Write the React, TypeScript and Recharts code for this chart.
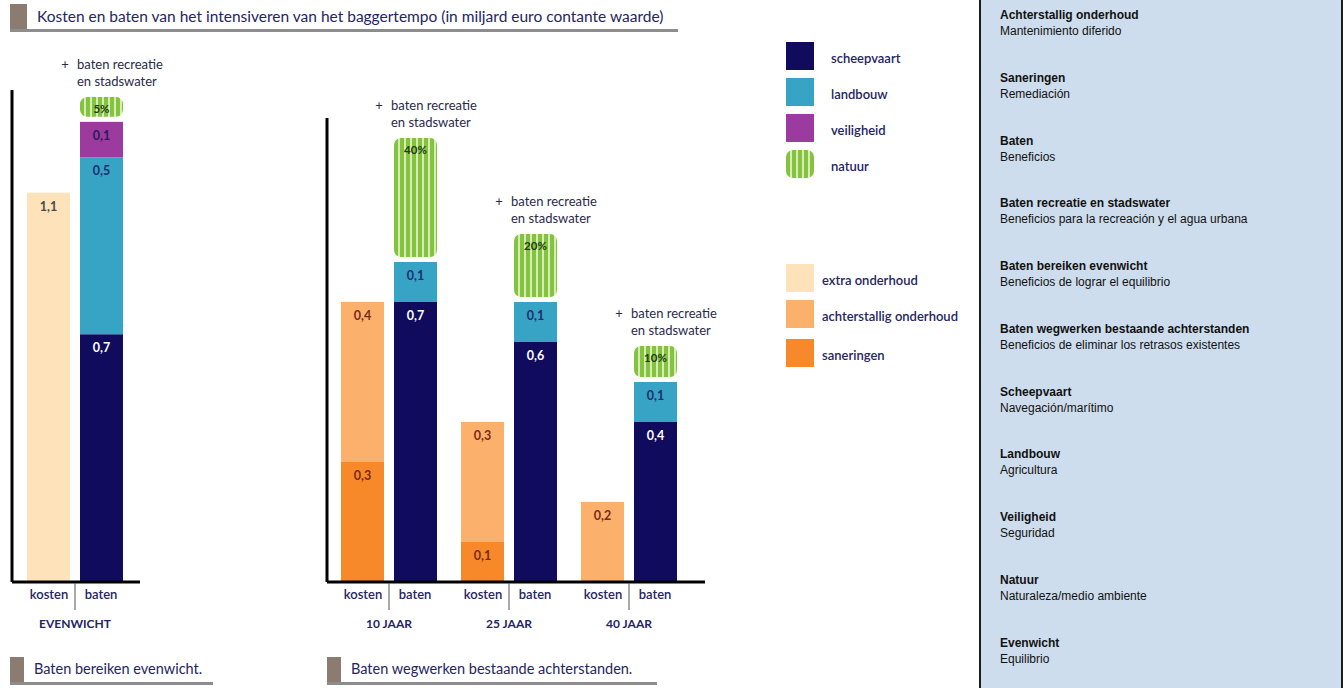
import React from 'react';
import { BarChart, Bar, XAxis, YAxis } from 'recharts';

// groups: first one is the left panel, the other three the middle panel
const groups = ['EVENWICHT', '10 JAAR', '25 JAAR', '40 JAAR'];

// kosten (miljard euro)
const extraOnderhoud = [1.1, 0, 0, 0];
const achterstalligOnderhoud = [0, 0.4, 0.3, 0.2];
const saneringen = [0, 0.3, 0.1, 0];

// baten (miljard euro)
const scheepvaart = [0.7, 0.7, 0.6, 0.4];
const landbouw = [0.5, 0.1, 0.1, 0.1];
const veiligheid = [0.1, 0, 0, 0];
// natuur is only given as a percentage; heights
const natuur = [0.07, 0.31, 0.17, 0.09];
const natuurPct = ['5%', '40%', '20%', '10%'];

const legendBaten = ['scheepvaart', 'landbouw', 'veiligheid', 'natuur'];
const legendKosten = ['extra onderhoud', 'achterstallig onderhoud', 'saneringen'];

const glossaryNl = [
  'Achterstallig onderhoud', 'Saneringen', 'Baten', 'Baten recreatie en stadswater',
  'Baten bereiken evenwicht', 'Baten wegwerken bestaande achterstanden', 'Scheepvaart',
  'Landbouw', 'Veiligheid', 'Natuur', 'Evenwicht',
];
const glossaryEs = [
  'Mantenimiento diferido', 'Remediación', 'Beneficios', 'Beneficios para la recreación y el agua urbana',
  'Beneficios de lograr el equilibrio', 'Beneficios de eliminar los retrasos existentes', 'Navegación/marítimo',
  'Agricultura', 'Seguridad', 'Naturaleza/medio ambiente', 'Equilibrio',
];

const C = {
  navy: '#100b5c',
  teal: '#37a4c6',
  purple: '#9b3a9f',
  green: '#84c23f',
  greenLight: '#d4edb4',
  peach: '#fde2ba',
  lightOrange: '#fbb16c',
  orange: '#f7892b',
  text: '#25255f',
  brown: '#8c7b70',
  rule: '#8d8d8d',
};

const FONT = 'Lato, "Open Sans", sans-serif';

const rows = groups.map((g, i) => ({
  group: g,
  saneringen: saneringen[i],
  achterstallig: achterstalligOnderhoud[i],
  extra: extraOnderhoud[i],
  scheepvaart: scheepvaart[i],
  landbouw: landbouw[i],
  veiligheid: veiligheid[i],
  natuur: natuur[i],
  pct: natuurPct[i],
}));

const fmt = (v: number) => v.toFixed(1).replace('.', ',');

const segShape = (key: string, fill: string, labelColor: string) => (props: any) => {
  const { x, y, width, height, payload } = props;
  const v = payload ? payload[key] : 0;
  if (!v || !height || height <= 0) return <g />;
  return (
    <g>
      <rect x={x} y={y} width={width} height={height} fill={fill} />
      <text x={x + width / 2} y={y + 18} textAnchor="middle" fontSize={12.5} fontWeight={700}
        fill={labelColor} fontFamily={FONT}>{fmt(v)}</text>
    </g>
  );
};

const NatuurShape = (props: any) => {
  const { x, y, width, height, payload, index } = props;
  if (!height || height <= 0) return <g />;
  const id = `stripes-${payload.group.replace(/\s/g, '')}-${index}`;
  const h = height - 5;
  return (
    <g>
      <defs>
        <pattern id={id} patternUnits="userSpaceOnUse" x={x} y={0} width={6} height={10}>
          <rect x={0} y={0} width={6} height={10} fill={C.green} />
          <rect x={4} y={0} width={2} height={10} fill={C.greenLight} />
        </pattern>
      </defs>
      <rect x={x} y={y} width={width} height={h} rx={7} ry={7} fill={`url(#${id})`} />
      <text x={x + width / 2} y={y + 16} textAnchor="middle" fontSize={11.5} fontWeight={700}
        fill="#22400c" fontFamily={FONT}>{payload.pct}</text>
      <text x={x - 15} y={y - 28} textAnchor="middle" fontSize={13} fill="#2a2a48" fontFamily={FONT}>+</text>
      <text x={x - 3} y={y - 28} fontSize={13} fill="#2a2a48" fontFamily={FONT}>baten recreatie</text>
      <text x={x - 3} y={y - 11} fontSize={13} fill="#2a2a48" fontFamily={FONT}>en stadswater</text>
    </g>
  );
};

const GroupTick = (props: any) => {
  const { x, y, payload } = props;
  return (
    <g>
      <line x1={x} x2={x} y1={y - 7} y2={y + 20} stroke="#555" strokeWidth={1} />
      <text x={x - 26} y={y + 9} textAnchor="middle" fontSize={13} fontWeight={600}
        fill={C.text} fontFamily={FONT}>kosten</text>
      <text x={x + 26} y={y + 9} textAnchor="middle" fontSize={13} fontWeight={600}
        fill={C.text} fontFamily={FONT}>baten</text>
      <text x={x} y={y + 38} textAnchor="middle" fontSize={12} fontWeight={700}
        fill={C.text} fontFamily={FONT}>{payload.value}</text>
    </g>
  );
};

const series = (
  [
    <Bar key="san" dataKey="saneringen" stackId="k" fill={C.orange} isAnimationActive={false}
      shape={segShape('saneringen', C.orange, '#7a2a1c')} />,
    <Bar key="ach" dataKey="achterstallig" stackId="k" fill={C.lightOrange} isAnimationActive={false}
      shape={segShape('achterstallig', C.lightOrange, '#7a2a1c')} />,
    <Bar key="ext" dataKey="extra" stackId="k" fill={C.peach} isAnimationActive={false}
      shape={segShape('extra', C.peach, '#4a4a4a')} />,
    <Bar key="sch" dataKey="scheepvaart" stackId="b" fill={C.navy} isAnimationActive={false}
      shape={segShape('scheepvaart', C.navy, '#ffffff')} />,
    <Bar key="lan" dataKey="landbouw" stackId="b" fill={C.teal} isAnimationActive={false}
      shape={segShape('landbouw', C.teal, '#1d2e6c')} />,
    <Bar key="vei" dataKey="veiligheid" stackId="b" fill={C.purple} isAnimationActive={false}
      shape={segShape('veiligheid', C.purple, '#2a1a5a')} />,
    <Bar key="nat" dataKey="natuur" stackId="b" fill={C.green} isAnimationActive={false}
      shape={NatuurShape} />,
  ]
);

const axes = (max: number, pad: { left: number; right: number }) => [
  <XAxis key="x" dataKey="group" tick={<GroupTick />} tickLine={false} interval={0} height={60}
    padding={pad} axisLine={{ stroke: '#000', strokeWidth: 3 }} />,
  <YAxis key="y" type="number" domain={[0, max]} tick={false} tickLine={false} width={1}
    axisLine={{ stroke: '#000', strokeWidth: 3 }} />,
];

const Heading = ({ left, top, width, text, barW, size }: any) => (
  <div style={{ position: 'absolute', left, top, width, height: 30 }}>
    <div style={{ position: 'absolute', left: 0, top: 0, width: barW, height: 27, background: C.brown }} />
    <div style={{ position: 'absolute', left: 0, top: 25, width, height: 3, background: C.rule }} />
    <div style={{ position: 'absolute', left: barW + 10, top: 3, fontSize: size, color: C.text, whiteSpace: 'nowrap' }}>
      {text}
    </div>
  </div>
);

const swatch = (bg: string, top: number, left: number) => (
  <div style={{ position: 'absolute', left, top, width: 28, height: 28, background: bg }} />
);

const App = () => {
  const batenColors = [C.navy, C.teal, C.purple];
  const kostenColors = [C.peach, C.lightOrange, C.orange];
  const batenTops = [42, 78, 114, 150];
  const kostenTops = [264, 300, 339];
  return (
    <div style={{ position: 'absolute', left: 0, top: 0, width: 1343, height: 688, overflow: 'hidden',
      background: '#fff', fontFamily: FONT }}>
      <div style={{ position: 'absolute', left: 0, top: 0 }}>
        <BarChart width={170} height={660} data={rows.slice(0, 1)} barSize={43} barGap={10}
          margin={{ top: 90, right: 30, bottom: 18, left: 11 }}>
          {axes(1.39, { left: 0, right: 2 })}
          {series}
        </BarChart>
      </div>
      <div style={{ position: 'absolute', left: 300, top: 0 }}>
        <BarChart width={445} height={660} data={rows.slice(1)} barSize={43} barGap={10}
          margin={{ top: 118, right: 40, bottom: 18, left: 26 }}>
          {axes(1.16, { left: 2, right: 16 })}
          {series}
        </BarChart>
      </div>

      <Heading left={10} top={4} width={668} barW={17} size={15.5}
        text="Kosten en baten van het intensiveren van het baggertempo (in miljard euro contante waarde)" />
      <Heading left={10} top={657} width={203} barW={14} size={14.5} text="Baten bereiken evenwicht." />
      <Heading left={327} top={657} width={330} barW={14} size={14.5} text="Baten wegwerken bestaande achterstanden." />

      {legendBaten.map((name, i) => (
        <React.Fragment key={name}>
          {i < 3 ? swatch(batenColors[i], batenTops[i], 786) : (
            <div style={{
              position: 'absolute', left: 786, top: batenTops[i], width: 28, height: 28, borderRadius: 7,
              background: `repeating-linear-gradient(90deg, ${C.green} 0 4px, ${C.greenLight} 4px 6px)`,
            }} />
          )}
          <div style={{ position: 'absolute', left: 831, top: batenTops[i] + 8, fontSize: 13, fontWeight: 600,
            color: C.text, whiteSpace: 'nowrap' }}>{name}</div>
        </React.Fragment>
      ))}
      {legendKosten.map((name, i) => (
        <React.Fragment key={name}>
          {swatch(kostenColors[i], kostenTops[i], 786)}
          <div style={{ position: 'absolute', left: 822, top: kostenTops[i] + 8, fontSize: 13, fontWeight: 600,
            color: C.text, whiteSpace: 'nowrap' }}>{name}</div>
        </React.Fragment>
      ))}

      <div style={{ position: 'absolute', left: 979, top: 0, width: 360, height: 688, background: '#cedded',
        borderLeft: '2px solid #1c1c1c', borderRight: '2px solid #1c1c1c',
        fontFamily: '"Liberation Sans", Arial, sans-serif', fontSize: 12, color: '#111' }}>
        {glossaryNl.map((term, i) => (
          <div key={term} style={{ position: 'absolute', left: 19, top: 7 + i * 62.75, lineHeight: '16px' }}>
            <div style={{ fontWeight: 700 }}>{term}</div>
            <div>{glossaryEs[i]}</div>
          </div>
        ))}
      </div>
    </div>
  );
};

export default App;
